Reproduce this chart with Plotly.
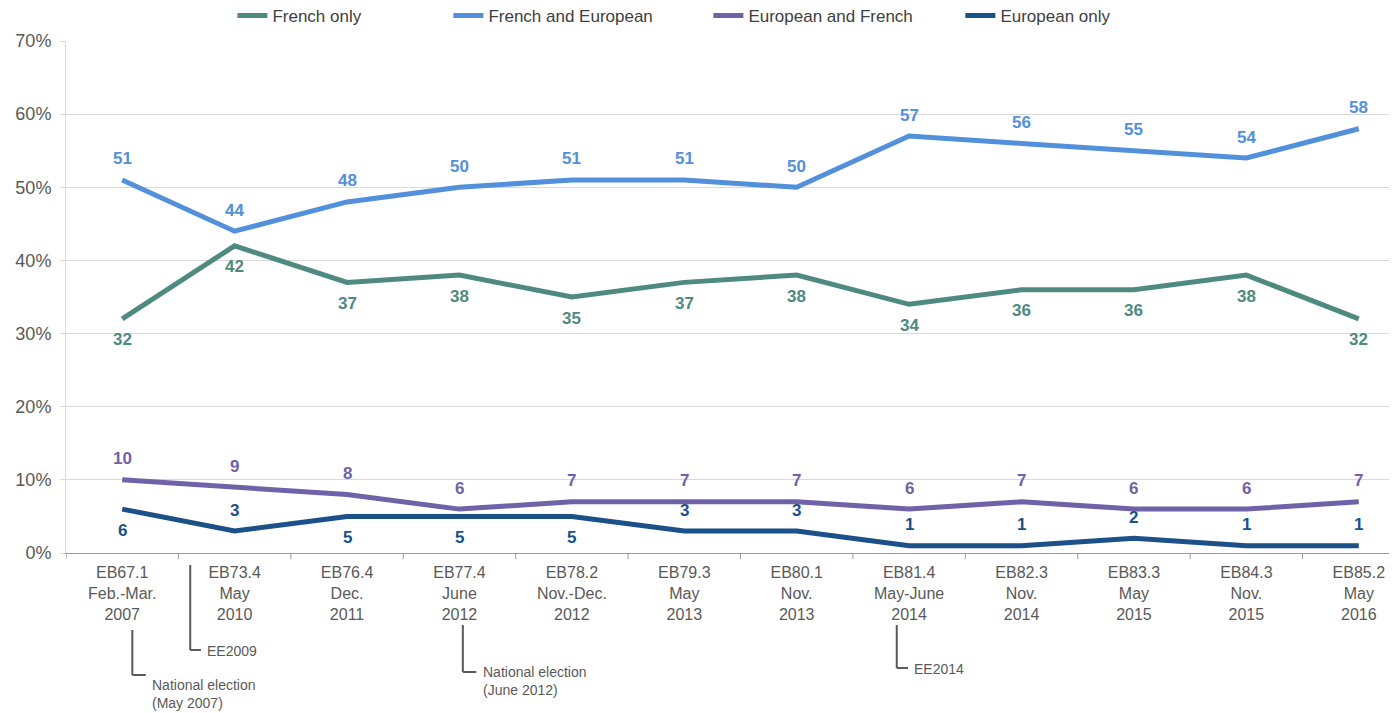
import plotly.graph_objects as go

categories = [
    "EB67.1<br>Feb.-Mar.<br>2007", "EB73.4<br>May<br>2010", "EB76.4<br>Dec.<br>2011",
    "EB77.4<br>June<br>2012", "EB78.2<br>Nov.-Dec.<br>2012", "EB79.3<br>May<br>2013",
    "EB80.1<br>Nov.<br>2013", "EB81.4<br>May-June<br>2014", "EB82.3<br>Nov.<br>2014",
    "EB83.3<br>May<br>2015", "EB84.3<br>Nov.<br>2015", "EB85.2<br>May<br>2016",
]
french_only = [32, 42, 37, 38, 35, 37, 38, 34, 36, 36, 38, 32]
french_and_european = [51, 44, 48, 50, 51, 51, 50, 57, 56, 55, 54, 58]
european_and_french = [10, 9, 8, 6, 7, 7, 7, 6, 7, 6, 6, 7]
european_only = [6, 3, 5, 5, 5, 3, 3, 1, 1, 2, 1, 1]
# +1 = label above the point, -1 = label below
fo_label_side = [-1] * 12
fe_label_side = [1] * 12
ef_label_side = [1] * 12
eo_label_side = [-1, 1, -1, -1, -1, 1, 1, 1, 1, 1, 1, 1]

FONT = "Liberation Sans, Arial, sans-serif"
idx = list(range(len(categories)))

series = [
    ("French only", french_only, "#4F8A80", fo_label_side, 171),
    ("French and European", french_and_european, "#5390DB", fe_label_side, 215),
    ("European and French", european_and_french, "#6F62A8", ef_label_side, 207),
    ("European only", european_only, "#1B5088", eo_label_side, 200),
]

fig = go.Figure()
for name, vals, color, sides, lw in series:
    fig.add_trace(go.Scatter(
        x=idx, y=vals, name=name, mode="lines",
        line=dict(color=color, width=5), legendwidth=lw,
        cliponaxis=False,
    ))
    for i, v in enumerate(vals):
        fig.add_annotation(x=i, y=v, xref="x", yref="y", text=str(v), showarrow=False,
                           yshift=21 * sides[i], xanchor="center", yanchor="middle",
                           font=dict(family=FONT, size=17, color=color, weight="bold"))

# page pixel -> paper coordinate (plot area spans page y 41..553)
def pix2paper(py):
    return (553 - py) / 512.0

events = [
    # x line, y top, y bottom, x end of elbow, text, text y
    (0.09, 630, 675, 0.21, "National election<br>(May 2007)", 694),
    (0.605, 565, 650, 0.70, "EE2009", 651),
    (3.03, 625, 672, 3.15, "National election<br>(June 2012)", 681),
    (6.89, 625, 668, 6.99, "EE2014", 669),
]
for xl, yt, yb, xe, txt, ty in events:
    fig.add_shape(type="line", xref="x", yref="paper", x0=xl, x1=xl,
                  y0=pix2paper(yt), y1=pix2paper(yb), line=dict(color="#595959", width=2))
    fig.add_shape(type="line", xref="x", yref="paper", x0=xl, x1=xe,
                  y0=pix2paper(yb), y1=pix2paper(yb), line=dict(color="#595959", width=2))
    fig.add_annotation(x=xe + 0.04, y=pix2paper(ty), xref="x", yref="paper", text=txt,
                       showarrow=False, xanchor="left", yanchor="middle", align="left",
                       font=dict(family=FONT, size=14, color="#595959"))

# the page body adds an 8px offset, so the figure is sized to fill the rest
fig.update_layout(
    width=1389, height=705,
    margin=dict(l=58, r=0, t=33, b=160, autoexpand=False),
    paper_bgcolor="white", plot_bgcolor="white",
    font=dict(family=FONT, color="#595959"),
    showlegend=True,
    legend=dict(orientation="h", x=0.125, y=1 - 8 / 705, xref="paper", yref="container",
                xanchor="left", yanchor="middle",
                font=dict(family=FONT, size=17, color="#404040"),
                itemwidth=30, bgcolor="rgba(0,0,0,0)"),
    xaxis=dict(
        tickmode="array", tickvals=idx, ticktext=categories, automargin=False,
        range=[-0.5, 11.34], showgrid=False, zeroline=False,
        showline=True, linecolor="#9a9a9a", linewidth=1, ticklabelstandoff=5,
        ticks="", tickfont=dict(family=FONT, size=16, color="#595959"),
    ),
    yaxis=dict(
        range=[0, 70], dtick=10, ticksuffix="%", showgrid=True, gridcolor="#d9d9d9",
        gridwidth=1, zeroline=False, showline=True, linecolor="#d9d9d9", automargin=False,
        ticks="outside", ticklen=5, tickcolor="#d9d9d9", ticklabelstandoff=5,
        tickfont=dict(family=FONT, size=18, color="#595959"),
    ),
)

# tick marks between categories on x axis
for b in range(len(categories) + 1):
    fig.add_shape(type="line", xref="x", yref="paper", x0=b - 0.5, x1=b - 0.5,
                  y0=0, y1=pix2paper(559), line=dict(color="#9a9a9a", width=1))

fig.write_html("out.html")
